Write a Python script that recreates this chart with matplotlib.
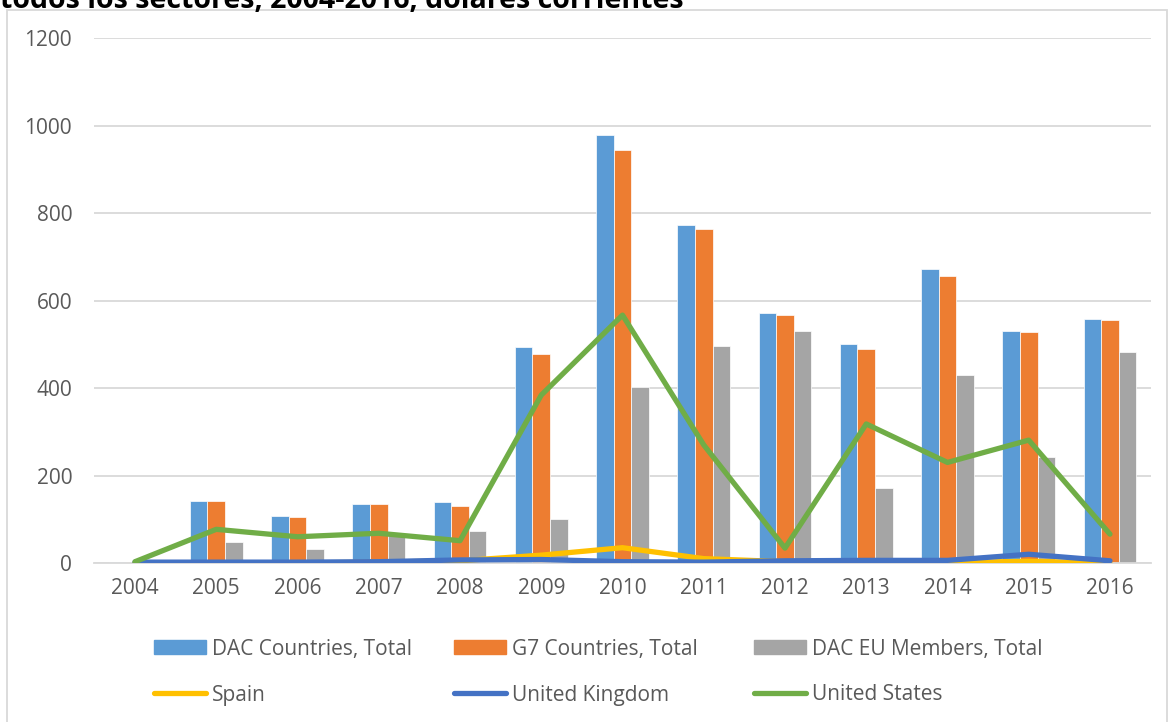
import numpy as np
import matplotlib
matplotlib.use('Agg')
import matplotlib.pyplot as plt
from matplotlib.patches import Rectangle
from matplotlib.lines import Line2D
from matplotlib.patches import Patch

years = ['2004', '2005', '2006', '2007', '2008', '2009', '2010',
         '2011', '2012', '2013', '2014', '2015', '2016']

# bar series
dac_total = [2, 142, 108, 136, 140, 495, 979, 772, 572, 502, 672, 531, 557]
g7_total = [2, 141, 106, 134, 131, 478, 944, 763, 568, 490, 657, 528, 555]
dac_eu = [1, 49, 32, 64, 74, 101, 402, 497, 531, 171, 430, 242, 482]

# line series
spain = [0, 0, 0, 2, 5, 18, 35, 10, 3, 2, 1, 4, 0]
uk = [2, 2, 2, 3, 7, 8, 3, 2, 5, 6, 6, 20, 5]
us = [3, 77, 60, 68, 51, 384, 567, 270, 34, 318, 230, 281, 66]

title_text = 'todos los sectores, 2004-2016, dólares corrientes'

c_dac = '#5B9BD5'
c_g7 = '#ED7D31'
c_eu = '#A5A5A5'
c_es = '#FFC000'
c_uk = '#4472C4'
c_us = '#70AD47'
txt = '#595959'
grid = '#D9D9D9'

plt.rcParams['font.family'] = ['Open Sans', 'DejaVu Sans']

W, H = 1170, 722
fig = plt.figure(figsize=(W / 100, H / 100), dpi=100)

def fx(px):
    return px / W

def fy(py):
    return 1 - py / H

ax = fig.add_axes([fx(94.4), fy(563), fx(1150.6) - fx(94.4), fy(38.3) - fy(563)])

x = np.arange(len(years))
bw = 0.217
ax.bar(x - bw, dac_total, bw, color=c_dac, edgecolor='white', linewidth=0.5, zorder=2)
ax.bar(x, g7_total, bw, color=c_g7, edgecolor='white', linewidth=0.5, zorder=2)
ax.bar(x + bw, dac_eu, bw, color=c_eu, edgecolor='white', linewidth=0.5, zorder=2)

lw = 3.8
for vals, col in [(spain, c_es), (uk, c_uk), (us, c_us)]:
    ax.plot(x, vals, color=col, lw=lw, solid_capstyle='round',
            solid_joinstyle='round', zorder=3)

ax.set_xlim(-0.5, 12.5)
ax.set_ylim(0, 1200)
ax.set_yticks(range(0, 1201, 200))
ax.set_xticks(x)
ax.set_xticklabels(years)
ax.grid(axis='y', color=grid, lw=1.3, zorder=0)
ax.set_axisbelow(True)
for s in ['left', 'right', 'top']:
    ax.spines[s].set_visible(False)
ax.spines['bottom'].set_color(grid)
ax.spines['bottom'].set_linewidth(1.3)
ax.tick_params(axis='both', length=0, labelsize=15, colors=txt)
ax.tick_params(axis='y', pad=16)
ax.tick_params(axis='x', pad=11)

# legend, three columns of two entries
cols = [
    [(Patch(color=c_dac), 'DAC Countries, Total'),
     (Line2D([], [], color=c_es, lw=lw, solid_capstyle='round'), 'Spain')],
    [(Patch(color=c_g7), 'G7 Countries, Total'),
     (Line2D([], [], color=c_uk, lw=lw, solid_capstyle='round'), 'United Kingdom')],
    [(Patch(color=c_eu), 'DAC EU Members, Total'),
     (Line2D([], [], color=c_us, lw=lw, solid_capstyle='round'), 'United States')],
]
for i, col in enumerate(cols):
    lg = fig.legend([h for h, _ in col], [l for _, l in col],
                    loc='center left', bbox_to_anchor=(fx(154 + 300 * i), fy(672)),
                    frameon=False, fontsize=15, handlelength=2.5, handleheight=0.65,
                    handletextpad=0.3, labelspacing=1.2, borderpad=0,
                    borderaxespad=0, labelcolor=txt)

# chart border and cut-off title above it
fig.patches.append(Rectangle((fx(7), fy(740)), fx(1167) - fx(7), fy(10) - fy(740),
                             transform=fig.transFigure, fill=False,
                             edgecolor=grid, lw=1.3))
fig.text(fx(0), fy(8), title_text, fontsize=20.5, fontweight='bold',
         color='black', va='baseline', ha='left')

fig.savefig('out.png', dpi=100)
